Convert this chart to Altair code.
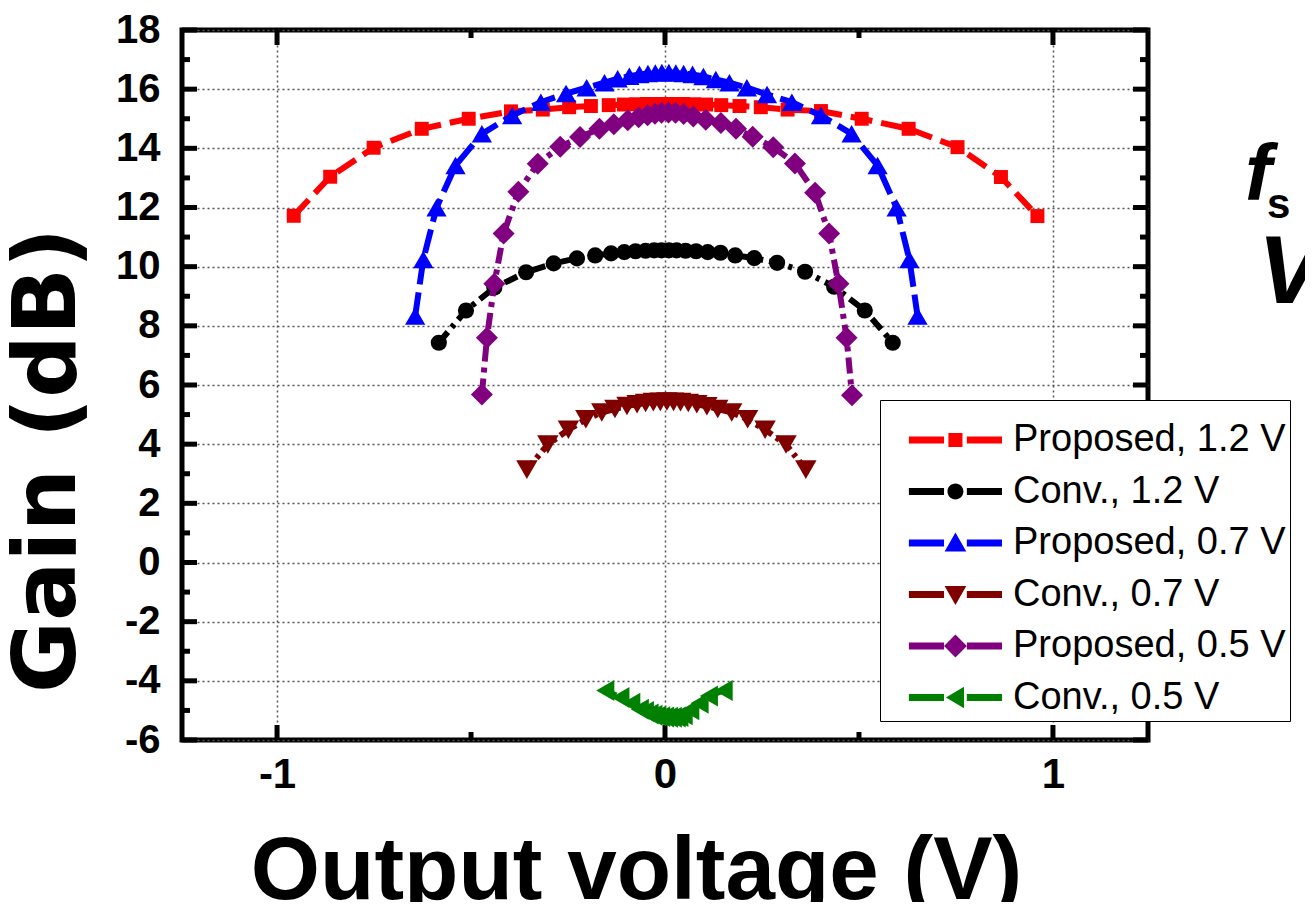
import altair as alt
import pandas as pd

# ---------------- data ----------------
series_names = ["Proposed, 1.2 V", "Conv., 1.2 V", "Proposed, 0.7 V",
                "Conv., 0.7 V", "Proposed, 0.5 V", "Conv., 0.5 V"]
series_colors = ["#ff0000", "#000000", "#0000ff", "#800000", "#800080", "#008000"]

prop12_v = [-0.957, -0.863, -0.751, -0.627, -0.506, -0.397, -0.315, -0.247, -0.191,
            -0.145, -0.106, -0.074, -0.047, -0.025, -0.008, 0.008, 0.025, 0.047, 0.074,
            0.106, 0.145, 0.192, 0.247, 0.316, 0.402, 0.507, 0.628, 0.754, 0.866, 0.960]
prop12_g = [11.72, 13.04, 14.02, 14.66, 15.00, 15.25, 15.31, 15.39, 15.43,
            15.46, 15.48, 15.49, 15.50, 15.50, 15.50, 15.50, 15.50, 15.50, 15.49,
            15.48, 15.46, 15.43, 15.39, 15.31, 15.26, 15.00, 14.66, 14.04, 13.03, 11.71]

conv12_v = [-0.583, -0.513, -0.440, -0.358, -0.287, -0.227, -0.180, -0.139, -0.105,
            -0.076, -0.050, -0.028, -0.009, 0.010, 0.030, 0.053, 0.080, 0.110, 0.143,
            0.181, 0.230, 0.289, 0.361, 0.436, 0.515, 0.587]
conv12_g = [7.43, 8.52, 9.29, 9.81, 10.11, 10.28, 10.38, 10.45, 10.49,
            10.52, 10.54, 10.55, 10.55, 10.55, 10.55, 10.54, 10.52, 10.49, 10.47,
            10.38, 10.29, 10.13, 9.83, 9.32, 8.52, 7.43]

prop07_v = [-0.644, -0.623, -0.589, -0.540, -0.472, -0.394, -0.320, -0.255, -0.202,
            -0.156, -0.122, -0.092, -0.066, -0.044, -0.025, -0.008, 0.010, 0.028, 0.048,
            0.071, 0.099, 0.131, 0.166, 0.211, 0.263, 0.327, 0.402, 0.481, 0.548, 0.597,
            0.630, 0.651]
prop07_g = [8.33, 10.24, 11.99, 13.42, 14.49, 15.11, 15.56, 15.85, 16.05,
            16.22, 16.35, 16.44, 16.50, 16.53, 16.55, 16.56, 16.56, 16.55, 16.53,
            16.50, 16.43, 16.33, 16.22, 16.05, 15.82, 15.56, 15.11, 14.49, 13.42, 11.99,
            10.24, 8.33]

conv07_v = [-0.356, -0.302, -0.249, -0.204, -0.163, -0.129, -0.098, -0.072, -0.050,
            -0.030, -0.012, 0.005, 0.022, 0.040, 0.060, 0.082, 0.108, 0.136, 0.172,
            0.213, 0.258, 0.312, 0.363]
conv07_g = [3.14, 3.99, 4.49, 4.84, 5.07, 5.19, 5.29, 5.35, 5.39,
            5.42, 5.43, 5.44, 5.43, 5.42, 5.39, 5.35, 5.28, 5.19, 5.07,
            4.84, 4.49, 3.99, 3.14]

prop05_v = [-0.472, -0.459, -0.440, -0.416, -0.378, -0.328, -0.270, -0.219, -0.169,
            -0.132, -0.096, -0.068, -0.045, -0.026, -0.009, 0.009, 0.027, 0.048, 0.073,
            0.105, 0.144, 0.183, 0.226, 0.279, 0.335, 0.387, 0.423, 0.447, 0.468, 0.482]
prop05_g = [5.68, 7.60, 9.42, 11.12, 12.53, 13.48, 14.05, 14.38, 14.66,
            14.81, 14.95, 15.05, 15.12, 15.17, 15.20, 15.21, 15.20, 15.16, 15.08,
            14.97, 14.86, 14.66, 14.39, 14.04, 13.49, 12.50, 11.12, 9.42, 7.60, 5.65]

conv05_v = [-0.154, -0.115, -0.087, -0.065, -0.052, -0.040, -0.030, -0.020, -0.010,
            0.000, 0.010, 0.020, 0.030, 0.037, 0.048, 0.065, 0.089, 0.113, 0.151]
conv05_g = [-4.33, -4.56, -4.76, -4.96, -5.04, -5.12, -5.16, -5.19, -5.21,
            -5.22, -5.23, -5.23, -5.22, -5.21, -5.15, -4.98, -4.76, -4.51, -4.33]

x_ticks_major = [-1, 0, 1]
x_ticks_minor = [-0.5, 0.5]
y_ticks_major = [-6, -4, -2, 0, 2, 4, 6, 8, 10, 12, 14, 16, 18]
y_ticks_minor = [-5, -3, -1, 1, 3, 5, 7, 9, 11, 13, 15, 17]

# ---------------- styling ----------------
W, H = 966, 710
marker_shapes = ["square", "circle", "triangle-up", "triangle-down", "diamond", "triangle-left"]
marker_sizes = [195, 260, 410, 460, 484, 440]
line_dashes = [[22, 9], [14, 6, 4, 6], [24, 8], [10, 5, 4, 5], [16, 6, 5, 6], [12, 5]]

all_v = [prop12_v, conv12_v, prop07_v, conv07_v, prop05_v, conv05_v]
all_g = [prop12_g, conv12_g, prop07_g, conv07_g, prop05_g, conv05_g]

label_expr = "datum.value < 0 ? '-' + abs(datum.value) : '' + datum.value"

x_enc = alt.X(
    "v:Q",
    scale=alt.Scale(domain=[-1.245, 1.245], nice=False, zero=False),
    axis=alt.Axis(
        values=x_ticks_major, grid=True, gridDash=[2, 3], gridColor="#555555",
        gridWidth=1.5, gridOpacity=1, ticks=False, tickSize=0, domain=False,
        labelFont="Liberation Sans", labelFontWeight="bold", labelFontSize=42,
        labelColor="black", labelPadding=14, labelExpr=label_expr,
        labelOverlap=False, labelFlush=False,
        title="Output voltage (V)", titleFont="Liberation Sans", titleFontSize=89,
        titleFontWeight="bold", titleColor="black", titleX=454, titleY=158,
        titleAlign="center", titleBaseline="alphabetic",
    ),
)
y_enc = alt.Y(
    "g:Q",
    scale=alt.Scale(domain=[-6, 18], nice=False, zero=False),
    axis=alt.Axis(
        values=y_ticks_major, grid=True, gridDash=[2, 3], gridColor="#555555",
        gridWidth=1.5, gridOpacity=1, ticks=False, tickSize=0, domain=False,
        labelFont="Liberation Sans", labelFontWeight="bold", labelFontSize=40,
        labelColor="black", labelPadding=22, labelExpr=label_expr,
        labelOverlap=False, labelFlush=False,
        title="Gain (dB)", titleFont="DejaVu Sans", titleFontSize=88,
        titleFontWeight="bold", titleColor="black", titleAngle=270,
        titleX=-134, titleY=430, titleAlign="center", titleBaseline="middle",
    ),
)

layers = []

# inward ticks on all four sides
df_xM = pd.DataFrame({"v": x_ticks_major})
df_xm = pd.DataFrame({"v": x_ticks_minor})
df_yM = pd.DataFrame({"g": y_ticks_major})
df_ym = pd.DataFrame({"g": y_ticks_minor})
for df_t, ln in [(df_xM, 15), (df_xm, 8)]:
    layers.append(alt.Chart(df_t).mark_rule(color="black", strokeWidth=5).encode(
        x=x_enc, y=alt.value(H), y2=alt.value(H - ln)))
    layers.append(alt.Chart(df_t).mark_rule(color="black", strokeWidth=5).encode(
        x=x_enc, y=alt.value(0), y2=alt.value(ln)))
for df_t, ln in [(df_yM, 15), (df_ym, 8)]:
    layers.append(alt.Chart(df_t).mark_rule(color="black", strokeWidth=5).encode(
        y=y_enc, x=alt.value(0), x2=alt.value(ln)))
    layers.append(alt.Chart(df_t).mark_rule(color="black", strokeWidth=5).encode(
        y=y_enc, x=alt.value(W - ln), x2=alt.value(W)))

# series: line then markers, in legend order
for i, name in enumerate(series_names):
    df_s = pd.DataFrame({"v": all_v[i], "g": all_g[i], "k": list(range(len(all_v[i])))})
    layers.append(alt.Chart(df_s).mark_line(
        color=series_colors[i], strokeWidth=6, strokeDash=line_dashes[i]
    ).encode(x=x_enc, y=y_enc, order="k:Q"))
    layers.append(alt.Chart(df_s).mark_point(
        shape=marker_shapes[i], size=marker_sizes[i], filled=True, opacity=1,
        color=series_colors[i], strokeWidth=0
    ).encode(x=x_enc, y=y_enc))

# legend symbols: line - marker - line (custom paths, units of 19 px)
cx = 2.76


def rect(x0, x1, y0, y1):
    return f"M{x0:.3f},{y0:.3f}L{x1:.3f},{y0:.3f}L{x1:.3f},{y1:.3f}L{x0:.3f},{y1:.3f}Z"


line_part = rect(cx - 2.45, cx - 0.6, -0.18, 0.18) + rect(cx + 0.6, cx + 2.45, -0.18, 0.18)
r = 0.42
marker_paths = [
    rect(cx - 0.37, cx + 0.37, -0.37, 0.37),
    f"M{cx - r:.3f},0A{r},{r} 0 1,0 {cx + r:.3f},0A{r},{r} 0 1,0 {cx - r:.3f},0Z",
    f"M{cx:.3f},-0.55L{cx + 0.57:.3f},0.45L{cx - 0.57:.3f},0.45Z",
    f"M{cx:.3f},0.55L{cx + 0.57:.3f},-0.45L{cx - 0.57:.3f},-0.45Z",
    f"M{cx:.3f},-0.6L{cx + 0.6:.3f},0L{cx:.3f},0.6L{cx - 0.6:.3f},0Z",
    f"M{cx - 0.5:.3f},0L{cx + 0.45:.3f},-0.57L{cx + 0.45:.3f},0.57Z",
]
legend_paths = [line_part + m for m in marker_paths]

legend_df = pd.DataFrame({"series": series_names})
legend_def = alt.Legend(
    orient="none", legendX=698, legendY=370, title=" ", titleFontSize=13,
    titlePadding=4, padding=4, symbolSize=1444, symbolStrokeWidth=0,
    labelFont="Liberation Sans", labelFontSize=38, labelColor="black",
    labelOffset=91, labelLimit=0, rowPadding=13.5, fillColor="white",
    strokeColor="black", labelExpr="datum.label + '\u00a0\u00a0\u00a0\u00a0\u00a0\u00a0'",
)
layers.append(alt.Chart(legend_df).mark_point(
    filled=True, opacity=1, size=1444, clip=True, strokeWidth=0
).encode(
    x=alt.value(-5000), y=alt.value(-5000),
    color=alt.Color("series:N", scale=alt.Scale(domain=series_names, range=series_colors),
                    sort=series_names, legend=legend_def),
    shape=alt.Shape("series:N", scale=alt.Scale(domain=series_names, range=legend_paths),
                    sort=series_names, legend=legend_def),
))

# partially visible side annotations (cut off at right edge)
side_text = [("f", 1063, 170, 80, "italic"), ("s", 1085, 188, 42, "normal"),
             ("V", 1076, 273, 96, "italic"), ("i", 1124, 275, 50, "normal")]
for t, px, py, fs, st in side_text:
    layers.append(alt.Chart(pd.DataFrame({"t": [t]})).mark_text(
        font="Liberation Sans", fontWeight="bold", fontStyle=st, fontSize=fs,
        align="left", baseline="alphabetic", color="black"
    ).encode(text="t:N", x=alt.value(px), y=alt.value(py)))

chart = alt.layer(*layers).properties(
    width=W, height=H,
    autosize=alt.AutoSizeParams(type="none"),
    padding={"left": 174, "top": 22, "right": 157, "bottom": 162},
).configure_view(stroke="black", strokeWidth=5)

chart.save("out.html", embed_options={"renderer": "svg", "actions": False})
